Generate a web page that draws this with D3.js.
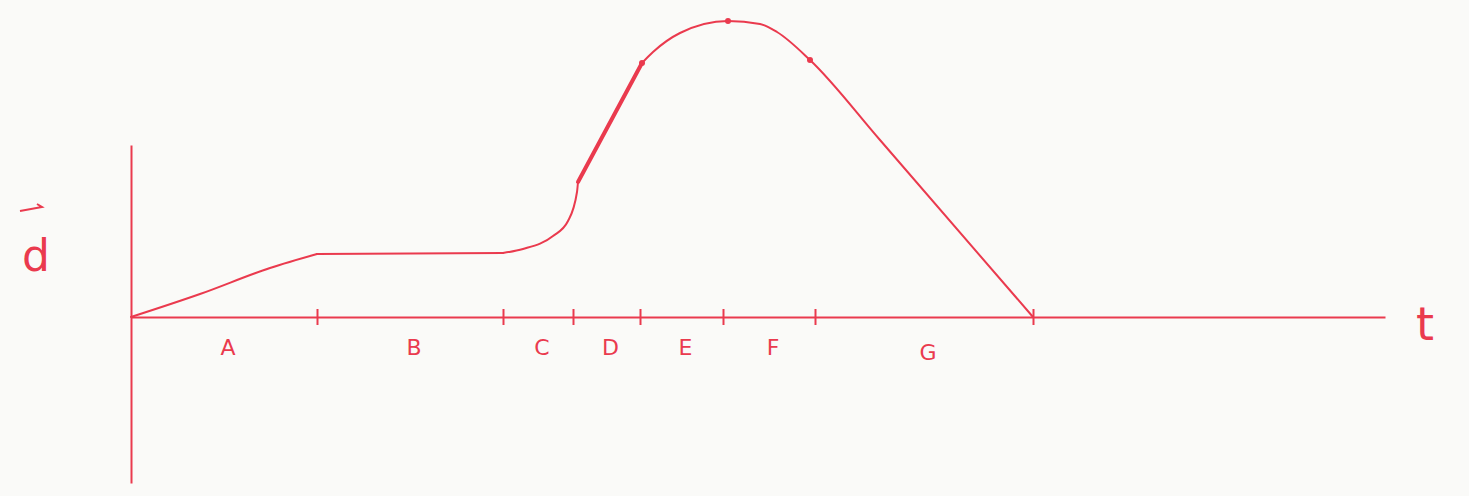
<!DOCTYPE html>
<html lang="en">
  <head>
    <meta charset="UTF-8" />
    <title>d vs t sketch</title>
    <style>
      body { margin: 0; background: #fafaf8; }
      svg { display: block; }
    </style>
  </head>
  <body>
    <div id="chart"></div>

    <script src="https://cdn.jsdelivr.net/npm/d3@7"></script>
    <script>
      // interval boundaries on the time axis and their letters
      var boundaries = [0, 18.6, 37.2, 44.2, 50.9, 59.2, 68.4, 90.2];
      var segments = ["A", "B", "C", "D", "E", "F", "G"];

      // the displacement curve
      var times = [0, 6.9, 13.9, 18.6, 37.2, 39.2, 42.2, 43.7, 44.6, 44.7, 51.1, 52.2, 54.9, 59.7, 62.9, 64.6, 67.9, 74.9, 90.2];
      var dists = [0, 2.3, 4.9, 6.3, 6.4, 6.8, 8.1, 9.6, 12.5, 13.5, 25.4, 26.5, 28.4, 29.6, 29.3, 28.5, 25.7, 17.7, 0];
      // index where each drawn piece of the curve starts (A, B, C, D, E-G)
      var pieceStarts = [0, 3, 4, 9, 10];

      // marked points on the curve
      var markTimes = [51.1, 59.7, 67.9];
      var markDists = [25.4, 29.6, 25.7];

      var width = 1469;
      var height = 496;
      var ink = "#ea3a4e";

      var x = d3.scaleLinear()
                .domain([0, 125.4])
                .range([131, 1385]);
      var y = d3.scaleLinear()
                .domain([-16.6, 17.2])
                .range([483, 145]);

      var svg = d3.select("#chart")
                  .append("svg")
                  .attr("width", width)
                  .attr("height", height);

      // vertical axis
      var yAxis = d3.axisLeft(y)
                    .tickValues([])
                    .tickSizeOuter(0);
      svg.append("g")
         .attr("transform", "translate(" + x(0) + ",0)")
         .call(yAxis)
         .select(".domain")
         .attr("stroke", ink)
         .attr("stroke-width", 2);

      // time axis, ticks cross the line
      var xAxis = d3.axisBottom(x)
                    .tickValues(boundaries.slice(1))
                    .tickSize(16)
                    .tickSizeOuter(0)
                    .tickFormat("");
      var gx = svg.append("g")
                  .attr("transform", "translate(0," + y(0) + ")")
                  .call(xAxis);
      gx.select(".domain")
        .attr("stroke", ink)
        .attr("stroke-width", 2);
      gx.selectAll(".tick line")
        .attr("stroke", ink)
        .attr("stroke-width", 2)
        .attr("y1", -8)
        .attr("y2", 8);

      // interval letters
      svg.selectAll("text.seg")
         .data(segments)
         .enter()
         .append("text")
         .attr("class", "seg")
         .attr("x", function(d, i) {
           return (x(boundaries[i]) + x(boundaries[i + 1])) / 2 + 4;
         })
         .attr("y", function(d, i) { return y(0) + 38 + (i == 6 ? 5 : 0); })
         .attr("text-anchor", "middle")
         .attr("font-family", "DejaVu Sans, sans-serif")
         .attr("font-size", "22px")
         .attr("fill", ink)
         .text(function(d) { return d; });

      // curve, drawn piece by piece so the straight stretch in D stays straight
      var pts = times.map(function(t, i) { return [t, dists[i]]; });
      var line = d3.line()
                   .x(function(d) { return x(d[0]); })
                   .y(function(d) { return y(d[1]); })
                   .curve(d3.curveMonotoneX);
      var pieces = pieceStarts.map(function(s, k) {
        var e = k + 1 < pieceStarts.length ? pieceStarts[k + 1] : pts.length - 1;
        return pts.slice(s, e + 1);
      });
      svg.selectAll("path.curve")
         .data(pieces)
         .enter()
         .append("path")
         .attr("class", "curve")
         .attr("d", line)
         .attr("fill", "none")
         .attr("stroke", ink)
         .attr("stroke-width", function(d, i) { return i == 3 ? 4 : 2; })
         .attr("stroke-linecap", "round");

      svg.selectAll("circle")
         .data(markTimes)
         .enter()
         .append("circle")
         .attr("cx", function(d) { return x(d); })
         .attr("cy", function(d, i) { return y(markDists[i]); })
         .attr("r", 3)
         .attr("fill", ink);

      // axis names
      svg.append("text")
         .attr("x", 36)
         .attr("y", 271)
         .attr("text-anchor", "middle")
         .attr("font-family", "DejaVu Sans, sans-serif")
         .attr("font-size", "44px")
         .attr("fill", ink)
         .text("d");
      svg.append("path")
         .attr("d", "M20,211 L42,207 L37,204")
         .attr("fill", "none")
         .attr("stroke", ink)
         .attr("stroke-width", 2);

      svg.append("text")
         .attr("x", 1425)
         .attr("y", 340)
         .attr("text-anchor", "middle")
         .attr("font-family", "DejaVu Sans, sans-serif")
         .attr("font-size", "46px")
         .attr("fill", ink)
         .text("t");
    </script>
  </body>
</html>
